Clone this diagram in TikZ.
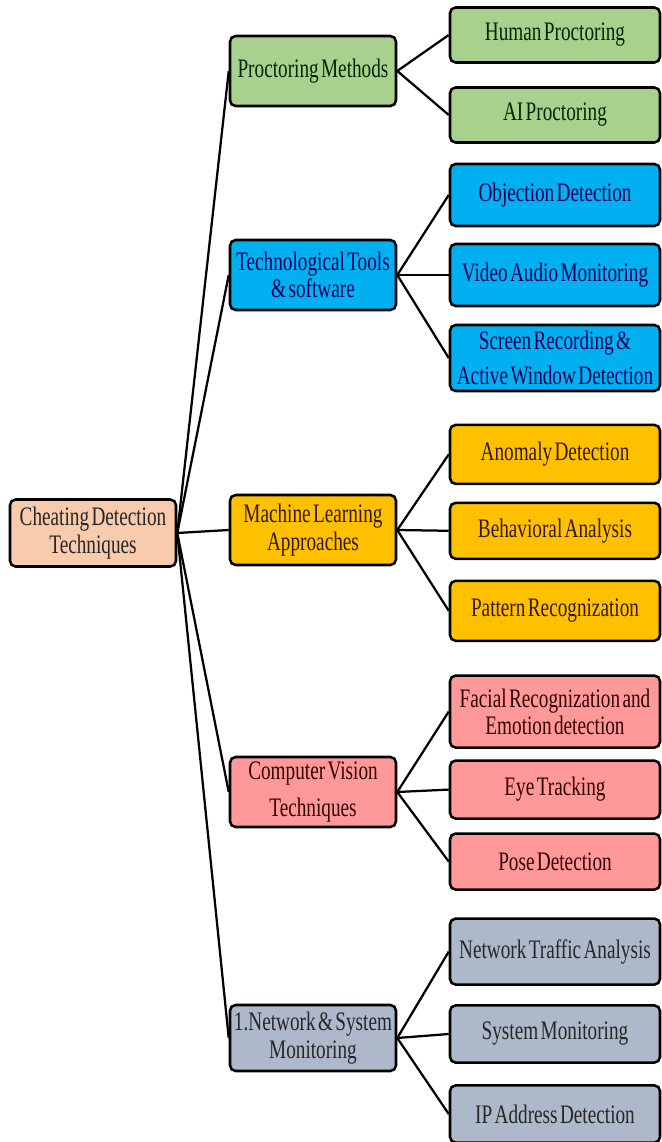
\documentclass[tikz,border=0pt]{standalone}
\usepackage{fontspec}
\setmainfont{Liberation Serif}[FakeStretch=0.72,WordSpace=0.5]
\usetikzlibrary{positioning}
\definecolor{peach}{HTML}{F8CBAD}
\definecolor{leafgreen}{HTML}{A9D18E}
\definecolor{skyblue}{HTML}{00B0F0}
\definecolor{amber}{HTML}{FFC000}
\definecolor{rose}{HTML}{FF9999}
\definecolor{slate}{HTML}{ADB9CA}
\tikzstyle{link} = [line width=1.6pt]
\tikzstyle{topic} = [
rectangle, rounded corners=4pt, minimum width=4.15cm, minimum height=1.675cm,
align=center, inner sep=2pt, draw=black, line width=1.8pt, fill=peach, text=black!85,
font=\fontsize{19}{19.5}\selectfont
]
\tikzstyle{branch} = [
rectangle, rounded corners=4pt, minimum width=4.15cm, minimum height=1.75cm,
align=center, inner sep=2pt, draw=black, line width=1.8pt,
font=\fontsize{19}{19.5}\selectfont
]
\tikzstyle{leaf} = [
rectangle, rounded corners=4pt, minimum width=5.25cm, minimum height=1.45cm,
align=center, inner sep=2pt, draw=black, line width=1.8pt,
font=\fontsize{19}{19.5}\selectfont
]
\tikzstyle{col_G} = [fill=leafgreen, text=black!85!green]
\tikzstyle{col_B} = [fill=skyblue, text=blue!35!black]
\tikzstyle{col_Y} = [fill=amber, text=black!80!orange]
\tikzstyle{col_R} = [fill=rose, text=black!80!red]
\tikzstyle{col_S} = [fill=slate, text=black!85]

\begin{document}
\begin{tikzpicture}[node distance=2cm]
			\useasboundingbox (-2.325,13.325) rectangle (14.225,-15.225);

			% Raiz
			\node (root) [topic] {Cheating Detection\\Techniques};

			% Categorias
			\node (PM) [branch, col_G, right of=root, xshift=3.5cm, yshift=11.55cm] {Proctoring Methods};
			\node (TT) [branch, col_B, below of=PM, yshift=-3.1cm] {Technological Tools\\\& software};
			\node (ML) [branch, col_Y, below of=TT, yshift=-4.375cm] {Machine Learning\\Approaches};
			\node (CV) [branch, col_R, below of=ML, yshift=-4.55cm] {Computer Vision\\[0.25cm]Techniques};
			\node (NS) [branch, col_S, below of=CV, yshift=-4.15cm, minimum height=1.65cm] {1.Network \& System\\Monitoring};

			% Folhas
			\node (PM_1) [leaf, col_G, right of=PM, xshift=4.05cm, yshift=0.9cm, minimum height=1.375cm] {Human Proctoring};
			\node (PM_2) [leaf, col_G, below of=PM_1, minimum height=1.375cm] {AI Proctoring};

			\node (TT_1) [leaf, col_B, right of=TT, xshift=4.05cm, yshift=2cm, minimum height=1.55cm] {Objection Detection};
			\node (TT_2) [leaf, col_B, below of=TT_1, minimum height=1.55cm] {Video Audio Monitoring};
			\node (TT_3) [leaf, col_B, below of=TT_2, yshift=-0.075cm, minimum height=1.65cm] {Screen Recording \&\\[0.17cm]Active Window Detection};

			\node (ML_1) [leaf, col_Y, right of=ML, xshift=4.05cm, yshift=1.89cm, minimum height=1.475cm] {Anomaly Detection};
			\node (ML_2) [leaf, col_Y, below of=ML_1, yshift=0.09cm, minimum height=1.4cm] {Behavioral Analysis};
			\node (ML_3) [leaf, col_Y, below of=ML_2, minimum height=1.5cm] {Pattern Recognization};

			\node (CV_1) [leaf, col_R, right of=CV, xshift=4.05cm, yshift=2.01cm, minimum height=1.8cm] {Facial Recognization and\\Emotion detection};
			\node (CV_2) [leaf, col_R, below of=CV_1, yshift=0.05cm] {Eye Tracking};
			\node (CV_3) [leaf, col_R, below of=CV_2, yshift=0.2cm, minimum height=1.4cm] {Pose Detection};

			\node (NS_1) [leaf, col_S, right of=NS, xshift=4.05cm, yshift=2.16cm, minimum height=1.65cm] {Network Traffic Analysis};
			\node (NS_2) [leaf, col_S, below of=NS_1, yshift=-0.06cm, minimum height=1.43cm] {System Monitoring};
			\node (NS_3) [leaf, col_S, below of=NS_2, minimum height=1.43cm] {IP Address Detection};

			% Ligacoes da raiz
			\foreach \b in {PM,TT,ML,CV,NS}
				\draw [link] (root.east) -- (\b.west);

			% Ligacoes das folhas
			\foreach \b/\n in {PM/1,PM/2,TT/1,TT/2,TT/3,ML/1,ML/2,ML/3,CV/1,CV/2,CV/3,NS/1,NS/2,NS/3}
				\draw [link] (\b.east) -- (\b_\n.west);

		\end{tikzpicture}
\end{document}
